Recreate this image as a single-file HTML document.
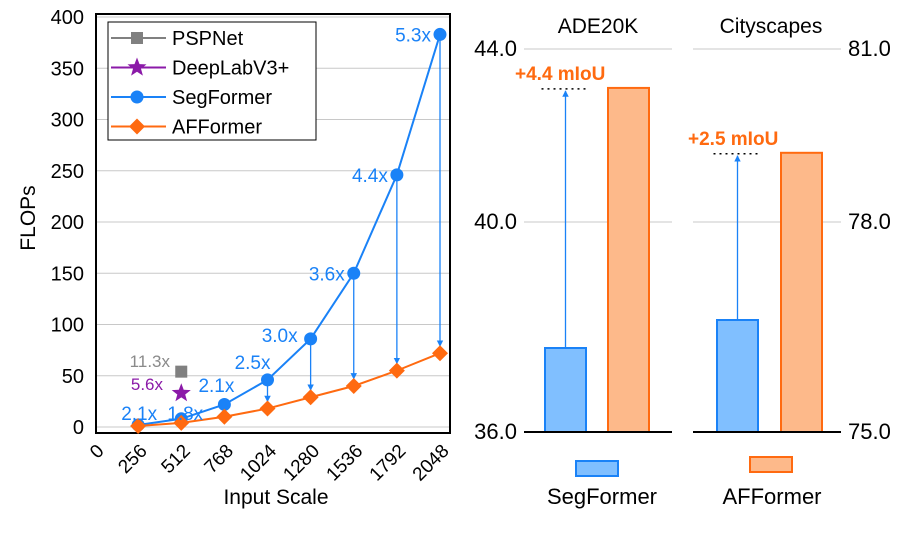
<!DOCTYPE html>
<html><head><meta charset="utf-8"><style>
body{margin:0;background:#fff}
svg{display:block;font-family:"Liberation Sans",Arial,sans-serif}
</style></head><body>
<svg id="c" width="907" height="536" viewBox="0 0 907 536" xmlns="http://www.w3.org/2000/svg">
<defs>
<marker id="ah" viewBox="0 0 10 10" refX="9" refY="5" markerWidth="5" markerHeight="7" orient="auto-start-reverse"><path d="M0,0L10,5L0,10z" fill="#1a82f7"/></marker>
</defs>
<g id="left"></g>
<g id="right"></g>
</svg>
<script>
const scales=[256,512,768,1024,1280,1536,1792,2048];
const xTicks=[0,256,512,768,1024,1280,1536,1792,2048];
const yTicks=[0,50,100,150,200,250,300,350,400];
const segFlops=[2,8,22,46,86,150,246,383];
const afFlops=[1,4,10,18,29,40,55,72];
const segRatios=["2.1x","1.8x","2.1x","2.5x","3.0x","3.6x","4.4x","5.3x"];
const pspFlops=[54];
const pspScale=[512];
const dlFlops=[33];
const dlScale=[512];
const adeTicks=[36,40,44];
const cityTicks=[75,78,81];
const adeVals=[37.6,43.1];
const cityVals=[76.6,79.2];
const gains=["+4.4 mIoU","+2.5 mIoU"];

const NS="http://www.w3.org/2000/svg";
function mk(p,t,a,txt){const e=document.createElementNS(NS,t);for(const k in a)e.setAttribute(k,a[k]);if(txt!==undefined)e.textContent=txt;p.appendChild(e);return e;}
const L=document.getElementById('left'),R=document.getElementById('right');
const X=v=>95+v*345/2048, Y=v=>427-v*410/400;

yTicks.forEach(t=>{
 const g=mk(L,'line',{x1:96,x2:450,y1:Y(t),y2:Y(t),stroke:'#c8c8c8','stroke-width':1});
 
 
 const tx=mk(L,'text',{x:84,y:Y(t)+7,'text-anchor':'end','font-size':20,fill:'#000'},t);
 
 
});
xTicks.forEach(t=>{
 const tx=mk(L,'text',{x:X(t)+10,y:452,'text-anchor':'end','font-size':19,transform:`rotate(-45 ${X(t)+10} 452)`},t);
 
 
});
const fr=mk(L,'rect',{x:96,y:14,width:354,height:419,fill:'none',stroke:'#000','stroke-width':2});


const xt=mk(L,'text',{x:276,y:504,'text-anchor':'middle','font-size':21},'Input Scale');


const yt=mk(L,'text',{x:35,y:218,'text-anchor':'middle','font-size':21,transform:'rotate(-90 35 218)'},'FLOPs');



for(let i=3;i<scales.length;i++){
 const a=mk(L,'line',{x1:X(scales[i]),x2:X(scales[i]),y1:Y(segFlops[i])+6,y2:Y(afFlops[i])-7,stroke:'#1a82f7','stroke-width':1.3,'marker-end':'url(#ah)'});
 
 
}
const pl=(vals,col,name)=>{const p=mk(L,'polyline',{points:scales.map((s,i)=>X(s)+','+Y(vals[i])).join(' '),fill:'none',stroke:col,'stroke-width':2});};
pl(segFlops,'#1a82f7','segformer-line');
pl(afFlops,'#ff6a10','afformer-line');
const diamond=(g,x,y,r)=>mk(g,'polygon',{points:`${x},${y-r} ${x+r},${y} ${x},${y+r} ${x-r},${y}`,fill:'#ff6a10'});
const star=(g,x,y,r)=>{let p=[];for(let k=0;k<10;k++){const rr=k%2?r*0.42:r,an=-Math.PI/2+k*Math.PI/5;p.push((x+rr*Math.cos(an)).toFixed(1)+','+(y+rr*Math.sin(an)).toFixed(1));}return mk(g,'polygon',{points:p.join(' '),fill:'#8b1aa8'});};
scales.forEach((s,i)=>{
 const c=mk(L,'circle',{cx:X(s),cy:Y(segFlops[i]),r:6.5,fill:'#1a82f7'});
 
 
 const d=diamond(L,X(s),Y(afFlops[i]),8);
 
 
});
const ps=mk(L,'rect',{x:X(pspScale[0])-6,y:Y(pspFlops[0])-6,width:12,height:12,fill:'#808080'});


const ds=star(L,X(dlScale[0]),Y(dlFlops[0]),10);


scales.forEach((s,i)=>{
 let x=X(s)-9,y=Y(segFlops[i])+7,anc='end';
 if(i===0){x=X(s)+19;y=420;}
 if(i===1){x=X(s)-14;y=420;anc='start';}
 if(i===2){x=X(s)+10;y=392;}
 if(i===3){x=X(s)+3;y=369;}
 if(i===4){x=X(s)-13;y=342;}
 const t=mk(L,'text',{x:x,y:y,'text-anchor':anc,'font-size':19,fill:'#1a82f7'},segRatios[i]);
 
 
});
const t1=mk(L,'text',{x:170,y:367,'text-anchor':'end','font-size':17,fill:'#8a8a8a'},'11.3x');

const t2=mk(L,'text',{x:163,y:390,'text-anchor':'end','font-size':17,fill:'#8b1aa8'},'5.6x');

const lg=mk(L,'g',{});


mk(lg,'rect',{x:108,y:22,width:208,height:118,fill:'#fff',stroke:'#000','stroke-width':1});
[['PSPNet','#808080','sq'],['DeepLabV3+','#8b1aa8','st'],['SegFormer','#1a82f7','ci'],['AFFormer','#ff6a10','di']].forEach((e,k)=>{
 const y=38+k*29.5;
 const g=mk(lg,'g',{});
 
 
 mk(g,'line',{x1:111,x2:166,y1:y,y2:y,stroke:e[1],'stroke-width':2});
 if(e[2]==='sq')mk(g,'rect',{x:131,y:y-6,width:12,height:12,fill:e[1]});
 if(e[2]==='st')star(g,137,y,10);
 if(e[2]==='ci')mk(g,'circle',{cx:137,cy:y,r:6.5,fill:e[1]});
 if(e[2]==='di')diamond(g,137,y,8);
 mk(g,'text',{x:172,y:y+7,'font-size':20},e[0]);
});

function pw(ticks,py){return v=>{if(v<=ticks[1])return py[0]+(v-ticks[0])/(ticks[1]-ticks[0])*(py[1]-py[0]);return py[1]+(v-ticks[1])/(ticks[2]-ticks[1])*(py[2]-py[1]);};}
const PY=[432,222,49];
function panel(name,ticks,vals,x0,x1,bx,title,tx,lblX,anchor,gain,gx){
 const S=pw(ticks,PY);
 const g=mk(R,'g',{});
 
 
 ticks.forEach((t,k)=>{
  if(k>0)mk(g,'line',{x1:x0,x2:x1,y1:S(t),y2:S(t),stroke:'#c8c8c8','stroke-width':1});
  const l=mk(g,'text',{x:lblX,y:S(t)+7,'text-anchor':anchor,'font-size':22},t.toFixed(1));
  
  
 });
 const cols=[['#80bfff','#1a82f7'],['#fdb98a','#ff6a10']];
 vals.forEach((v,i)=>{
  const b=mk(g,'rect',{x:bx[i],y:S(v),width:41,height:432-S(v),fill:cols[i][0],stroke:cols[i][1],'stroke-width':2});
  
  
 });
 mk(g,'line',{x1:x0,x2:x1,y1:432,y2:432,stroke:'#000','stroke-width':2});
 const ax=bx[0]+20.5;
 const ar=mk(g,'line',{x1:ax,x2:ax,y1:S(vals[0]),y2:S(vals[1])+3,stroke:'#1a82f7','stroke-width':1.3,'marker-end':'url(#ah)'});
 
 
 mk(g,'line',{x1:ax-24,x2:ax+24,y1:S(vals[1])+1,y2:S(vals[1])+1,stroke:'#000','stroke-width':1.5,'stroke-dasharray':'2,4'});
 const gt=mk(g,'text',{x:gx,y:S(vals[1])-8,'font-size':19,'font-weight':'bold',fill:'#ff6a10'},gain);
 
 
 const tt=mk(g,'text',{x:tx,y:33,'text-anchor':'middle','font-size':21},title);
 
 
}
panel('ade20k-panel',adeTicks,adeVals,524,672,[545,608],'ADE20K',598,517,'end',gains[0],515);
panel('cityscapes-panel',cityTicks,cityVals,693,841,[717,781],'Cityscapes',771,848,'start',gains[1],688);
const bl=mk(R,'g',{});


mk(bl,'rect',{x:576,y:461,width:42,height:15,fill:'#80bfff',stroke:'#1a82f7','stroke-width':2});
mk(bl,'text',{x:602,y:504,'text-anchor':'middle','font-size':22},'SegFormer');
mk(bl,'rect',{x:750,y:457,width:42,height:15,fill:'#fdb98a',stroke:'#ff6a10','stroke-width':2});
mk(bl,'text',{x:772,y:504,'text-anchor':'middle','font-size':22},'AFFormer');
</script>
</body></html>
